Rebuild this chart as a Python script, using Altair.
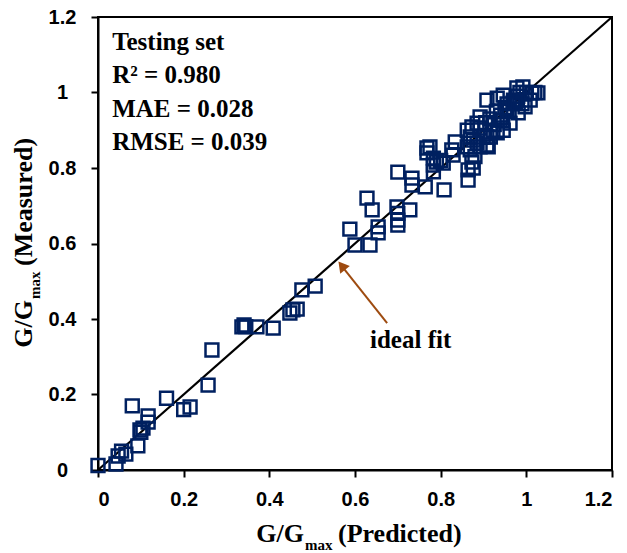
import altair as alt
import pandas as pd

# ---- data ----
predicted = [
    0.0, 0.042, 0.047, 0.065, 0.055, 0.093, 0.098, 0.105, 0.10, 0.117, 0.117, 0.08,
    0.16, 0.20, 0.215, 0.257, 0.266, 0.336, 0.341, 0.345, 0.371, 0.409, 0.448, 0.455,
    0.465, 0.476, 0.507, 0.588, 0.600, 0.635, 0.654, 0.654, 0.628, 0.64, 0.698, 0.70,
    0.70, 0.70, 0.728, 0.70, 0.733, 0.733, 0.764, 0.808, 0.768, 0.775, 0.768, 0.783,
    0.783, 0.79, 0.80, 0.783, 0.806, 0.826, 0.834, 0.829, 0.864, 0.876, 0.864, 0.873,
    0.869, 0.876, 0.885, 0.908, 0.862, 0.873, 0.892, 0.908, 0.922, 0.869, 0.862, 0.885,
    0.892, 0.908, 0.932, 0.946, 0.978, 0.992, 1.027, 1.013, 0.962, 0.981, 0.997, 1.009,
    0.939, 0.955, 0.969, 0.88, 0.892, 0.911, 0.899, 0.916, 0.932, 0.946, 0.95, 0.97,
    0.98, 1.0, 0.96, 0.94, 0.93, 0.99, 1.02, 0.985, 0.975, 0.945, 0.925, 0.915, 0.905,
    0.955,
]
measured = [
    0.012, 0.016, 0.037, 0.042, 0.05, 0.064, 0.106, 0.111, 0.10, 0.143, 0.127, 0.17,
    0.19, 0.16, 0.167, 0.225, 0.318, 0.379, 0.384, 0.38, 0.379, 0.376, 0.416, 0.424,
    0.426, 0.477, 0.487, 0.638, 0.596, 0.596, 0.644, 0.628, 0.72, 0.689, 0.697, 0.68,
    0.662, 0.649, 0.689, 0.789, 0.773, 0.755, 0.75, 0.742, 0.853, 0.856, 0.84, 0.826,
    0.808, 0.816, 0.82, 0.79, 0.813, 0.848, 0.869, 0.834, 0.768, 0.80, 0.795, 0.816,
    0.848, 0.874, 0.866, 0.861, 0.856, 0.909, 0.906, 0.882, 0.90, 0.882, 0.90, 0.919,
    0.935, 0.98, 0.985, 0.993, 1.012, 1.015, 0.999, 0.999, 0.919, 0.946, 0.962, 0.98,
    0.927, 0.954, 0.972, 0.83, 0.856, 0.856, 0.882, 0.882, 0.893, 0.90, 0.96, 0.98,
    0.99, 1.0, 0.95, 0.94, 0.95, 0.97, 1.0, 1.0, 0.975, 0.925, 0.915, 0.93, 0.92,
    0.97,
]
ideal_line = [0.0, 1.2]
tick_values = [0, 0.2, 0.4, 0.6, 0.8, 1.0, 1.2]
stats_lines = ["Testing set", "R\u00b2 = 0.980", "MAE = 0.028", "RMSE = 0.039"]
stats_y = [1.113, 1.025, 0.935, 0.848]
stats_x = [0.033, 0.033, 0.033, 0.033]
annotation_text = ["ideal fit"]

NAVY = "#002060"
BROWN = "#9E4B10"
SERIF = "Liberation Serif"
SANS = "Liberation Sans"

pts = pd.DataFrame({"pred": predicted, "meas": measured})
line_df = pd.DataFrame({"pred": ideal_line, "meas": ideal_line})

xscale = alt.Scale(domain=[0, 1.2], nice=False)
yscale = alt.Scale(domain=[0, 1.2], nice=False)

x_axis = alt.Axis(values=tick_values, format="~g", title=None, grid=False,
                  labelPadding=12)
y_axis = alt.Axis(values=tick_values, format="~g", title=None, grid=False,
                  labelAlign="center", labelPadding=29, labelBaseline="middle")

ideal = alt.Chart(line_df).mark_line(color="black", strokeWidth=2.2).encode(
    x=alt.X("pred:Q", scale=xscale, axis=x_axis),
    y=alt.Y("meas:Q", scale=yscale, axis=y_axis),
)

points = alt.Chart(pts).mark_point(
    shape="square", filled=False, size=165, strokeWidth=2.5, color=NAVY, opacity=1
).encode(x="pred:Q", y="meas:Q")

stats_df = pd.DataFrame({"t": stats_lines, "px": stats_x, "py": stats_y})
stats = alt.Chart(stats_df).mark_text(
    font=SERIF, fontWeight="bold", fontSize=25, align="left",
    baseline="alphabetic", color="black"
).encode(x="px:Q", y="py:Q", text="t:N")

ideal_df = pd.DataFrame({"t": annotation_text, "px": [0.635], "py": [0.323]})
ideal_txt = alt.Chart(ideal_df).mark_text(
    font=SERIF, fontWeight="bold", fontSize=25, align="left",
    baseline="alphabetic", color="black"
).encode(x="px:Q", y="py:Q", text="t:N")

arrow_df = pd.DataFrame({"x1": [0.675], "y1": [0.389], "x2": [0.566], "y2": [0.545]})
arrow = alt.Chart(arrow_df).mark_rule(color=BROWN, strokeWidth=2).encode(
    x="x1:Q", y="y1:Q", x2="x2:Q", y2="y2:Q")

head_df = pd.DataFrame({"hx": [0.569], "hy": [0.541]})
head = alt.Chart(head_df).mark_point(
    shape="triangle-up", filled=True, size=150, angle=321.6, color=BROWN, opacity=1
).encode(x="hx:Q", y="hy:Q")

# axis titles with subscript, built from text pieces
def piece(txt, size, align, x, y, angle=0):
    return alt.Chart(pd.DataFrame({"t": [txt]})).mark_text(
        font=SERIF, fontWeight="bold", fontSize=size, align=align,
        baseline="alphabetic", color="black", angle=angle
    ).encode(x=alt.value(x), y=alt.value(y), text="t:N")

xt1 = piece("G/G", 26, "right", 206, 525)
xt2 = piece("max", 15, "left", 207, 533)
xt3 = piece("(Predicted)", 26, "left", 240, 525)

yt1 = piece("G/G", 26, "right", -66, 283, 270)
yt2 = piece("max", 15, "left", -58, 282, 270)
yt3 = piece("(Measured)", 26, "left", -66, 249, 270)

chart = alt.layer(
    ideal, points, stats, ideal_txt, arrow, head,
    xt1, xt2, xt3, yt1, yt2, yt3
).properties(
    width=514, height=453,
    autosize=alt.AutoSizeParams(type="none"),
    padding={"left": 98, "top": 17, "right": 15, "bottom": 83},
    background="white",
).configure_view(
    stroke="black", strokeWidth=2
).configure_axis(
    domainColor="black", domainWidth=2, tickColor="black", tickWidth=2,
    tickSize=7, labelFont=SANS, labelFontWeight="bold", labelFontSize=20,
    labelColor="black",
)

chart.save("out.html", embed_options={"renderer": "svg", "actions": False})
